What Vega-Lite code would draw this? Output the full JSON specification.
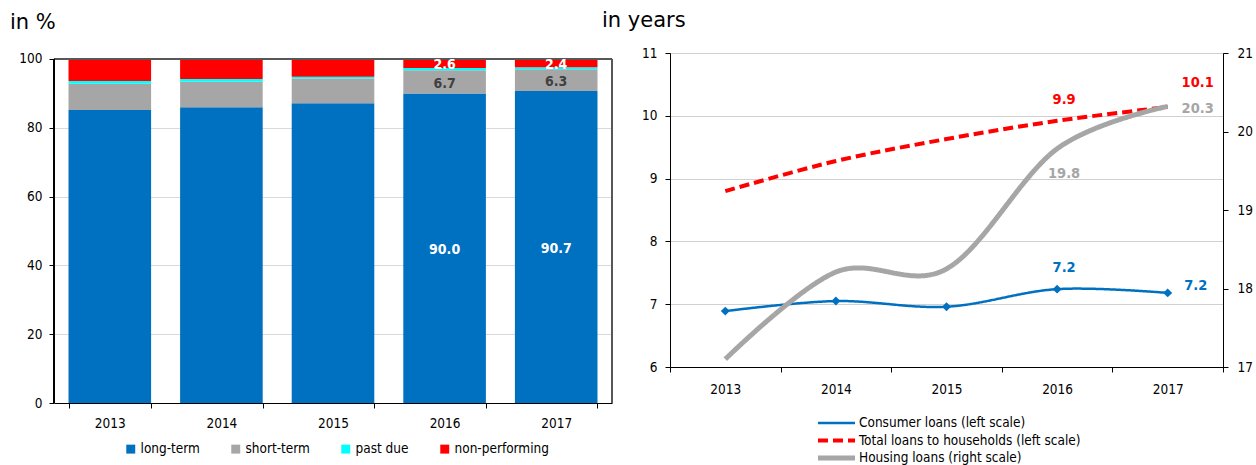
{
  "$schema": "https://vega.github.io/schema/vega-lite/v6.json",
  "background": "white",
  "padding": {"top": 9, "left": 5, "right": 5, "bottom": 5},
  "config": {
    "font": "DejaVu Sans Condensed",
    "axis": {"labelFont": "DejaVu Sans Condensed", "labelFontSize": 13.5, "labelColor": "#000", "domainColor": "#000", "tickColor": "#000", "gridColor": "#D9D9D9", "title": null},
    "legend": {"labelFont": "DejaVu Sans Condensed", "labelFontSize": 13.5, "labelColor": "#000", "labelLimit": 400},
    "title": {"font": "DejaVu Sans", "fontSize": 21, "fontWeight": "normal", "color": "#000", "anchor": "start", "frame": "group"}
  },
  "datasets": {
    "bars": [
      {"year": 2013, "cat": "long-term", "o": 1, "value": 85.2},
      {"year": 2013, "cat": "short-term", "o": 2, "value": 7.6},
      {"year": 2013, "cat": "past due", "o": 3, "value": 0.8},
      {"year": 2013, "cat": "non-performing", "o": 4, "value": 6.4},
      {"year": 2014, "cat": "long-term", "o": 1, "value": 86.0},
      {"year": 2014, "cat": "short-term", "o": 2, "value": 7.4},
      {"year": 2014, "cat": "past due", "o": 3, "value": 0.8},
      {"year": 2014, "cat": "non-performing", "o": 4, "value": 5.8},
      {"year": 2015, "cat": "long-term", "o": 1, "value": 87.1},
      {"year": 2015, "cat": "short-term", "o": 2, "value": 7.2},
      {"year": 2015, "cat": "past due", "o": 3, "value": 0.5},
      {"year": 2015, "cat": "non-performing", "o": 4, "value": 5.2},
      {"year": 2016, "cat": "long-term", "o": 1, "value": 90.0},
      {"year": 2016, "cat": "short-term", "o": 2, "value": 6.7},
      {"year": 2016, "cat": "past due", "o": 3, "value": 0.7},
      {"year": 2016, "cat": "non-performing", "o": 4, "value": 2.6},
      {"year": 2017, "cat": "long-term", "o": 1, "value": 90.7},
      {"year": 2017, "cat": "short-term", "o": 2, "value": 6.3},
      {"year": 2017, "cat": "past due", "o": 3, "value": 0.6},
      {"year": 2017, "cat": "non-performing", "o": 4, "value": 2.4}
    ],
    "lines": [
      {"year": 2013, "series": "Consumer loans (left scale)", "value": 6.89},
      {"year": 2014, "series": "Consumer loans (left scale)", "value": 7.05},
      {"year": 2015, "series": "Consumer loans (left scale)", "value": 6.96},
      {"year": 2016, "series": "Consumer loans (left scale)", "value": 7.24},
      {"year": 2017, "series": "Consumer loans (left scale)", "value": 7.18},
      {"year": 2013, "series": "Total loans to households (left scale)", "value": 8.80},
      {"year": 2014, "series": "Total loans to households (left scale)", "value": 9.28},
      {"year": 2015, "series": "Total loans to households (left scale)", "value": 9.63},
      {"year": 2016, "series": "Total loans to households (left scale)", "value": 9.92},
      {"year": 2017, "series": "Total loans to households (left scale)", "value": 10.14},
      {"year": 2013, "series": "Housing loans (right scale)", "value": 17.10},
      {"year": 2014, "series": "Housing loans (right scale)", "value": 18.21},
      {"year": 2015, "series": "Housing loans (right scale)", "value": 18.25},
      {"year": 2016, "series": "Housing loans (right scale)", "value": 19.78},
      {"year": 2017, "series": "Housing loans (right scale)", "value": 20.32}
    ]
  },
  "resolve": {"scale": {"color": "independent", "strokeDash": "independent", "x": "independent", "y": "independent"}, "legend": {"color": "independent", "strokeDash": "independent"}},
  "spacing": -12,
  "hconcat": [
    {
      "width": 558,
      "height": 350,
      "title": {"text": "in %", "dx": -44, "offset": 2, "baseline": "alphabetic"},
      "view": {"stroke": null},
      "data": {"name": "bars"},
      "layer": [
        {
          "mark": {"type": "bar"},
          "encoding": {
            "x": {"field": "year", "type": "ordinal", "scale": {"type": "band", "paddingInner": 0.26, "paddingOuter": 0.13},
                  "axis": {"labelAngle": 0, "tickBand": "extent", "tickSize": 5, "labelPadding": 8}},
            "y": {"field": "value", "type": "quantitative", "stack": "zero", "scale": {"domain": [0, 101.74], "nice": false},
                  "axis": {"values": [0, 20, 40, 60, 80, 100], "tickSize": 5, "labelPadding": 7, "grid": true, "domain": false, "minExtent": 49, "maxExtent": 49}},
            "color": {"field": "cat", "type": "nominal",
                      "scale": {"domain": ["long-term", "short-term", "past due", "non-performing"], "range": ["#0070C0", "#A6A6A6", "#00FFFF", "#FF0000"]},
                      "legend": {"orient": "none", "legendX": 70, "legendY": 389, "direction": "horizontal", "symbolType": "square", "symbolSize": 80, "labelOffset": 3, "columnPadding": 29, "title": null}},
            "order": {"field": "o", "type": "quantitative"}
          }
        },
        {
          "mark": {"type": "rule", "color": "#595959", "strokeWidth": 1},
          "encoding": {"y": {"datum": 100, "type": "quantitative"}}
        },
        {
          "mark": {"type": "rule", "color": "#000", "strokeWidth": 1},
          "encoding": {
            "x": {"datum": 2013, "type": "ordinal", "bandPosition": -0.1756},
            "y": {"datum": 0, "type": "quantitative"},
            "y2": {"datum": 100}
          }
        },
        {
          "mark": {"type": "rule", "color": "#595959", "strokeWidth": 1},
          "encoding": {
            "x": {"datum": 2017, "type": "ordinal", "bandPosition": 1.1756},
            "y": {"datum": 0, "type": "quantitative"},
            "y2": {"datum": 100}
          }
        },
        {
          "mark": {"type": "text", "fontWeight": "bold", "fontSize": 14, "dy": 2, "baseline": "middle"},
          "encoding": {
            "x": {"field": "year", "type": "ordinal"},
            "y": {"field": "value", "type": "quantitative", "stack": "zero", "bandPosition": 0.5},
            "order": {"field": "o", "type": "quantitative"},
            "text": {"condition": {"test": "datum.year < 2016 || datum.cat === 'past due'", "value": ""}, "field": "value", "type": "quantitative", "format": ".1f"},
            "color": {"condition": {"test": "datum.cat === 'short-term'", "value": "#404040"}, "value": "white"}
          }
        }
      ]
    },
    {
      "width": 553,
      "height": 314,
      "title": {"text": "in years", "dx": -68, "offset": -2, "baseline": "alphabetic"},
      "view": {"stroke": "#000"},
      "data": {"name": "lines"},
      "encoding": {
        "x": {"field": "year", "type": "ordinal", "bandPosition": 0.5, "scale": {"type": "band", "paddingInner": 0, "paddingOuter": 0},
              "axis": {"labelAngle": 0, "tickBand": "extent", "tickSize": 5, "labelPadding": 10}}
      },
      "layer": [
        {
          "layer": [
            {
              "transform": [{"filter": "datum.series === 'Consumer loans (left scale)'"}],
              "mark": {"type": "line", "interpolate": "cardinal", "strokeWidth": 2.5},
              "encoding": {
                "y": {"field": "value", "type": "quantitative", "scale": {"domain": [6, 11], "nice": false, "zero": false},
                      "axis": {"values": [6, 7, 8, 9, 10, 11], "format": "d", "grid": true, "gridColor": "#D0D0D0", "tickSize": 5, "labelPadding": 8}},
                "color": {"field": "series", "type": "nominal",
                          "scale": {"domain": ["Consumer loans (left scale)", "Total loans to households (left scale)", "Housing loans (right scale)"], "range": ["#0070C0", "#FF0000", "#A6A6A6"]},
                          "legend": {"orient": "none", "legendX": 146, "legendY": 362, "direction": "vertical", "symbolType": "stroke", "symbolSize": 1369, "labelOffset": 2, "rowPadding": 1.5, "clipHeight": 16, "title": null,
                                     "encode": {"symbols": {"update": {"strokeWidth": {"signal": "(datum.value === 'Consumer loans (left scale)' ? 2.5 : (datum.value === 'Housing loans (right scale)' ? 5 : 4))"}}}}}},
                "strokeDash": {"field": "series", "type": "nominal",
                               "scale": {"domain": ["Consumer loans (left scale)", "Total loans to households (left scale)", "Housing loans (right scale)"], "range": [[1, 0], [10, 5], [1, 0]]},
                               "legend": {"orient": "none", "legendX": 146, "legendY": 362, "direction": "vertical", "symbolType": "stroke", "symbolSize": 1369, "labelOffset": 2, "rowPadding": 1.5, "clipHeight": 16, "title": null,
                                          "encode": {"symbols": {"update": {"strokeWidth": {"signal": "(datum.value === 'Consumer loans (left scale)' ? 2.5 : (datum.value === 'Housing loans (right scale)' ? 5 : 4))"}}}}}}
              }
            },
            {
              "transform": [{"filter": "datum.series === 'Consumer loans (left scale)'"}],
              "mark": {"type": "point", "shape": "diamond", "filled": true, "size": 80, "color": "#0070C0", "opacity": 1},
              "encoding": {"y": {"field": "value", "type": "quantitative"}}
            },
            {
              "transform": [{"filter": "datum.series === 'Total loans to households (left scale)'"}],
              "mark": {"type": "line", "interpolate": "cardinal", "strokeWidth": 4, "strokeCap": "butt"},
              "encoding": {
                "y": {"field": "value", "type": "quantitative"},
                "color": {"field": "series", "type": "nominal"},
                "strokeDash": {"field": "series", "type": "nominal"}
              }
            },
            {
              "transform": [{"filter": "datum.series === 'Consumer loans (left scale)' && datum.year === 2016"}],
              "mark": {"type": "text", "fontWeight": "bold", "fontSize": 14.5, "color": "#0070C0", "dx": 7, "dy": -21, "baseline": "middle"},
              "encoding": {"y": {"field": "value", "type": "quantitative"}, "text": {"field": "value", "type": "quantitative", "format": ".1f"}}
            },
            {
              "transform": [{"filter": "datum.series === 'Consumer loans (left scale)' && datum.year === 2017"}],
              "mark": {"type": "text", "fontWeight": "bold", "fontSize": 14.5, "color": "#0070C0", "dx": 28, "dy": -7, "baseline": "middle"},
              "encoding": {"y": {"field": "value", "type": "quantitative"}, "text": {"field": "value", "type": "quantitative", "format": ".1f"}}
            },
            {
              "transform": [{"filter": "datum.series === 'Total loans to households (left scale)' && datum.year === 2016"}],
              "mark": {"type": "text", "fontWeight": "bold", "fontSize": 14.5, "color": "#FF0000", "dx": 7, "dy": -21, "baseline": "middle"},
              "encoding": {"y": {"field": "value", "type": "quantitative"}, "text": {"field": "value", "type": "quantitative", "format": ".1f"}}
            },
            {
              "transform": [{"filter": "datum.series === 'Total loans to households (left scale)' && datum.year === 2017"}],
              "mark": {"type": "text", "fontWeight": "bold", "fontSize": 14.5, "color": "#FF0000", "dx": 30, "dy": -24, "baseline": "middle"},
              "encoding": {"y": {"field": "value", "type": "quantitative"}, "text": {"field": "value", "type": "quantitative", "format": ".1f"}}
            }
          ]
        },
        {
          "layer": [
            {
              "transform": [{"filter": "datum.series === 'Housing loans (right scale)'"}],
              "mark": {"type": "line", "interpolate": "cardinal", "strokeWidth": 5},
              "encoding": {
                "y": {"field": "value", "type": "quantitative", "scale": {"domain": [17, 21], "nice": false, "zero": false},
                      "axis": {"orient": "right", "values": [17, 18, 19, 20, 21], "format": "d", "grid": false, "tickSize": 5, "labelPadding": 9}},
                "color": {"field": "series", "type": "nominal"},
                "strokeDash": {"field": "series", "type": "nominal"}
              }
            },
            {
              "transform": [{"filter": "datum.series === 'Housing loans (right scale)' && datum.year === 2016"}],
              "mark": {"type": "text", "fontWeight": "bold", "fontSize": 14.5, "color": "#A6A6A6", "dx": 7, "dy": 25, "baseline": "middle"},
              "encoding": {"y": {"field": "value", "type": "quantitative"}, "text": {"field": "value", "type": "quantitative", "format": ".1f"}}
            },
            {
              "transform": [{"filter": "datum.series === 'Housing loans (right scale)' && datum.year === 2017"}],
              "mark": {"type": "text", "fontWeight": "bold", "fontSize": 14.5, "color": "#A6A6A6", "dx": 30, "dy": 3, "baseline": "middle"},
              "encoding": {"y": {"field": "value", "type": "quantitative"}, "text": {"field": "value", "type": "quantitative", "format": ".1f"}}
            }
          ]
        }
      ],
      "resolve": {"scale": {"y": "independent"}}
    }
  ]
}
